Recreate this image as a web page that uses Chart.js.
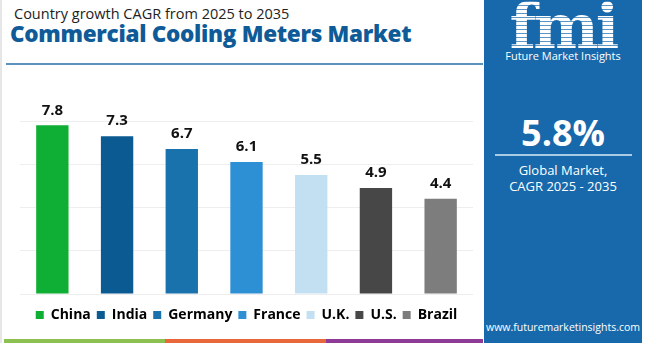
<!DOCTYPE html>
<html>
<head>
<meta charset="utf-8">
<script src="https://cdn.jsdelivr.net/npm/chart.js@4"></script>
<style>
  body { margin: 0; width: 650px; height: 343px; overflow: hidden; background: #fff; font-family: "Open Sans", sans-serif; position: relative; }
  .edge { position: absolute; left: 0; top: 0; width: 2px; height: 343px; background: #e6e6e6; }
  .sub { position: absolute; left: 14px; top: 4px; font-size: 14.5px; color: #222; }
  .title { position: absolute; left: 10px; top: 18px; font-size: 22.5px; font-weight: 800; color: #0f5b98; letter-spacing: -0.3px; }
  .rule { position: absolute; left: 6px; top: 63px; width: 477px; height: 2px; background: #5a93bf; }
  .wrap { position: absolute; left: 0; top: 70px; width: 483px; height: 262px; }
  .stripe { position: absolute; top: 339px; height: 4px; }
  .panel { position: absolute; left: 484px; top: 0; width: 158px; height: 343px; background: #1769ab; color: #fff; text-align: center; }
  .logo { position: absolute; left: 0; width: 158px; top: -10px; font-family: "DejaVu Serif", serif; font-weight: bold; font-size: 62px; letter-spacing: -3px;
          background: repeating-linear-gradient(#fff 0 3px, rgba(255,255,255,0.3) 3px 4px); -webkit-background-clip: text; color: transparent; }
  .fmi-name { position: absolute; left: 0; width: 158px; top: 48px; font-size: 11px; }
  .big { position: absolute; left: 0; width: 158px; top: 108px; font-size: 36px; font-weight: bold; }
  .line { position: absolute; left: 11px; width: 137px; top: 154px; height: 2px; background: #a9cbe6; }
  .gm { position: absolute; left: 0; width: 158px; top: 162px; font-size: 13px; line-height: 16px; }
  .url { position: absolute; left: 0; width: 158px; top: 320px; font-size: 10.5px; }
</style>
</head>
<body>
<div class="edge"></div>
<div class="sub">Country growth CAGR from 2025 to 2035</div>
<div class="title">Commercial Cooling Meters Market</div>
<div class="rule"></div>
<div class="wrap"><canvas id="chart"></canvas></div>
<div class="stripe" style="left:4px;width:161px;background:#8cc152"></div>
<div class="stripe" style="left:165px;width:161px;background:#e8683c"></div>
<div class="stripe" style="left:326px;width:157px;background:#8e3b97"></div>
<div class="panel">
  <div class="logo">fmi</div>
  <div class="fmi-name">Future Market Insights</div>
  <div class="big">5.8%</div>
  <div class="line"></div>
  <div class="gm">Global Market,<br>CAGR 2025 - 2035</div>
  <div class="url">www.futuremarketinsights.com</div>
</div>
<script>
const countries = ['China', 'India', 'Germany', 'France', 'U.K.', 'U.S.', 'Brazil'];
const cagrValues = [7.8, 7.3, 6.7, 6.1, 5.5, 4.9, 4.4];
const barColors = ['#0fae34', '#0b5a91', '#1a72ad', '#2e90d4', '#c2e0f1', '#474747', '#7d7d7d'];

// value labels above each bar
const valueLabels = {
    id: 'valueLabels',
    afterDatasetsDraw(chart) {
        const ctx = chart.ctx;
        const meta = chart.getDatasetMeta(0);
        ctx.save();
        ctx.font = 'bold 15px "Open Sans", sans-serif';
        ctx.fillStyle = '#111';
        ctx.textAlign = 'center';
        ctx.textBaseline = 'middle';
        meta.data.forEach((bar, i) => {
            ctx.fillText(cagrValues[i].toFixed(1), bar.x, bar.y - 15);
        });
        ctx.restore();
    }
};

const ctx = document.getElementById('chart').getContext('2d');
new Chart(ctx, {
    type: 'bar',
    data: {
        labels: countries,
        datasets: [{
            data: cagrValues,
            backgroundColor: barColors,
            categoryPercentage: 1,
            barPercentage: 0.5
        }]
    },
    options: {
        responsive: true,
        maintainAspectRatio: false,
        animation: false,
        layout: { padding: { left: 20, right: 10, top: 51, bottom: 0 } },
        scales: {
            x: {
                grid: { display: false },
                border: { display: false },
                ticks: { display: false }
            },
            y: {
                min: 0,
                max: 8,
                ticks: { display: false, stepSize: 2 },
                grid: { color: '#eeeeee', drawTicks: false },
                border: { display: false }
            }
        },
        plugins: {
            tooltip: { enabled: false },
            legend: {
                position: 'bottom',
                labels: {
                    generateLabels: chart => countries.map((c, i) => ({
                        text: c,
                        fillStyle: barColors[i],
                        strokeStyle: barColors[i],
                        lineWidth: 0,
                        index: i
                    })),
                    boxWidth: 8,
                    boxHeight: 8,
                    padding: 6,
                    color: '#111',
                    font: { size: 14, weight: 'bold', family: '"Open Sans", sans-serif' }
                }
            }
        }
    },
    plugins: [valueLabels]
});
</script>
</body>
</html>
